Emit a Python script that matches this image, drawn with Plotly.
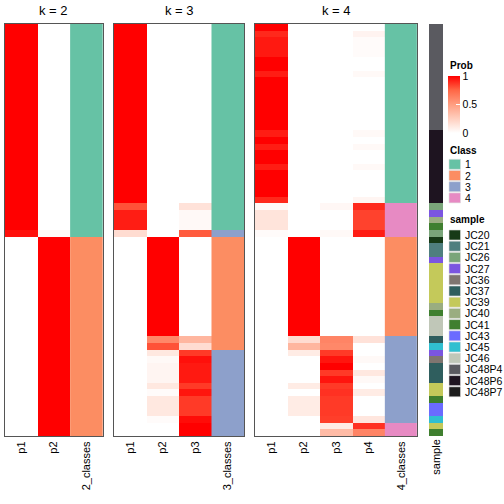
import plotly.graph_objects as go

# ---------------- data ----------------
rows = list(range(62))

sample_names = ["JC20", "JC21", "JC26", "JC27", "JC36", "JC37", "JC39", "JC40",
                "JC41", "JC43", "JC45", "JC46", "JC48P4", "JC48P6", "JC48P7"]
sample_colors = ["#173a17", "#4f7f7f", "#7aa57a", "#7b55e0", "#7f7570", "#2f5e5e",
                 "#c4c95a", "#9aad80", "#3f7f2f", "#6b6bff", "#30bfd0", "#c0c7b8",
                 "#5a5a60", "#1e1420", "#1c1c1c"]

row_samples = (["JC48P4"] * 16 + ["JC48P6"] * 11 +
               ["JC26", "JC27", "JC40", "JC41", "JC26", "JC20", "JC21", "JC21",
                "JC27", "JC39", "JC39", "JC39", "JC39", "JC39", "JC39", "JC40",
                "JC41", "JC46", "JC46", "JC46", "JC37", "JC45", "JC27", "JC36",
                "JC37", "JC37", "JC37", "JC39", "JC39", "JC41", "JC43", "JC43",
                "JC45", "JC39", "JC41"])

class_labels = ["1", "2", "3", "4"]
class_colors = ["#66c2a5", "#fc8d62", "#8da0cb", "#e78ac3"]

# k = 2
k2_p1 = [1.0] * 31 + [0.96] + [0.0] * 30
k2_p2 = [0.0] * 31 + [0.03] + [1.0] * 30
k2_class = [1] * 32 + [2] * 30

# k = 3
k3_p1 = [1.0] * 27 + [0.8, 0.93, 0.93, 0.93, 0.18] + [0.0] * 30
k3_p2 = ([0.0] * 32 + [1.0] * 15 +
         [0.6, 0.8, 0.12, 0.03, 0.05, 0.05, 0.05, 0.12, 0.02, 0.12, 0.12, 0.12, 0.02, 0.0, 0.0])
k3_p3 = ([0.0] * 27 + [0.15, 0.03, 0.03, 0.03, 0.78] + [0.0] * 15 +
         [0.38, 0.18, 0.86, 0.96, 0.94, 0.94, 0.94, 0.86, 0.95, 0.86, 0.86, 0.86, 0.97, 1.0, 1.0])
k3_class = [1] * 31 + [3] + [2] * 17 + [3] * 13

# k = 4
k4_p1 = ([1.0, 0.9, 0.94, 0.94, 0.94, 1.0, 1.0, 0.93, 1.0, 1.0, 1.0, 1.0, 1.0, 1.0, 1.0, 1.0,
          0.93, 1.0, 0.93, 1.0, 1.0, 0.93, 1.0, 1.0, 1.0, 1.0, 0.9,
          0.03, 0.14, 0.14, 0.14, 0.02] + [0.0] * 30)
k4_p2 = ([0.0] * 32 + [1.0] * 15 +
         [0.18, 0.38, 0.1, 0.0, 0.0, 0.0, 0.0, 0.1, 0.0, 0.1, 0.1, 0.1, 0.0, 0.0, 0.0])
k4_p3 = ([0.0] * 27 + [0.04, 0.0, 0.0, 0.0, 0.03] + [0.0] * 15 +
         [0.62, 0.6, 0.86, 0.95, 1.0, 0.86, 0.95, 0.86, 0.88, 0.86, 0.86, 0.86, 0.85, 0.1, 0.35])
k4_p4 = ([0.0, 0.06, 0.02, 0.02, 0.02, 0.0, 0.0, 0.03, 0.0, 0.0, 0.0, 0.0, 0.0, 0.0, 0.0, 0.0,
          0.03, 0.0, 0.03, 0.0, 0.0, 0.03, 0.0, 0.0, 0.0, 0.0, 0.05,
          0.9, 0.84, 0.84, 0.84, 0.93] + [0.0] * 15 +
         [0.15, 0.0, 0.0, 0.03, 0.0, 0.12, 0.03, 0.0, 0.1, 0.0, 0.0, 0.0, 0.13, 0.88, 0.62])
k4_class = [1] * 27 + [4] * 5 + [2] * 15 + [3] * 13 + [4] * 2

panels = [
    (2, [k2_p1, k2_p2], k2_class, ["p1", "p2", "2_classes"]),
    (3, [k3_p1, k3_p2, k3_p3], k3_class, ["p1", "p2", "p3", "3_classes"]),
    (4, [k4_p1, k4_p2, k4_p3, k4_p4], k4_class, ["p1", "p2", "p3", "p4", "4_classes"]),
]

# ---------------- layout helpers ----------------
W = 504.0
FONT = "Liberation Sans, Arial, Helvetica, sans-serif"
panel_x = {2: (5.0, 102.7), 3: (114.0, 244.0), 4: (255.0, 417.3)}
sample_x = (429.0, 443.0)
HM_TOP, HM_BOT = 24.0, 436.0


def xdom(a, b):
    return [a / W, b / W]


def ydom(top, bot):
    return [1 - bot / W, 1 - top / W]


def discrete_scale(colors):
    n = len(colors)
    scale = []
    for i, c in enumerate(colors):
        scale.append([i / n, c])
        scale.append([(i + 1) / n, c])
    return scale


prob_scale = [[0.0, "#ffffff"], [0.25, "#ffcfbf"], [0.5, "#ff9e81"],
              [0.75, "#ff6746"], [1.0, "#ff0000"]]

fig = go.Figure()
layout = dict(width=504, height=504, margin=dict(l=0, r=0, t=0, b=0),
              paper_bgcolor="white", plot_bgcolor="white",
              font=dict(family=FONT, size=11, color="black"),
              showlegend=False)

annotations = []
shapes = []

for i, (k, probs, cls, ticks) in enumerate(panels):
    ax = i + 1
    xa = "x" if ax == 1 else f"x{ax}"
    ya = "y" if ax == 1 else f"y{ax}"
    z = [[probs[c][r] for c in range(k)] for r in rows]
    fig.add_trace(go.Heatmap(z=z, x0=0, dx=1, y=rows, coloraxis="coloraxis",
                             xaxis=xa, yaxis=ya, hoverinfo="skip"))
    fig.add_trace(go.Heatmap(z=[[c] for c in cls], x0=k, dx=1, y=rows,
                             colorscale=discrete_scale(class_colors), zmin=0.5, zmax=4.5,
                             showscale=False, xaxis=xa, yaxis=ya, hoverinfo="skip"))
    a, b = panel_x[k]
    layout["xaxis" if ax == 1 else f"xaxis{ax}"] = dict(
        domain=xdom(a, b), range=[-0.5, k + 0.5], anchor=ya,
        tickmode="array", tickvals=list(range(k + 1)), ticktext=ticks,
        tickangle=-90, ticks="", showgrid=False, zeroline=False,
        showline=True, mirror=True, linecolor="#555555", linewidth=1,
        tickfont=dict(size=11, family=FONT, color="black"), fixedrange=True,
        automargin=False)
    layout["yaxis" if ax == 1 else f"yaxis{ax}"] = dict(
        domain=ydom(HM_TOP, HM_BOT), range=[61.5, -0.5], anchor=xa,
        showticklabels=False, ticks="", showgrid=False, zeroline=False,
        showline=True, mirror=True, linecolor="#555555", linewidth=1, fixedrange=True,
        automargin=False)
    annotations.append(dict(text=f"k = {k}", x=(a + b) / 2 / W, y=1 - 10.7 / W,
                            xref="paper", yref="paper", xanchor="center", yanchor="middle",
                            showarrow=False, font=dict(size=13, family=FONT, color="black")))

# sample annotation column
sample_idx = [[sample_names.index(s)] for s in row_samples]
fig.add_trace(go.Heatmap(z=sample_idx, x0=0, dx=1, y=rows,
                         colorscale=discrete_scale(sample_colors),
                         zmin=-0.5, zmax=len(sample_names) - 0.5, showscale=False,
                         xaxis="x4", yaxis="y4", hoverinfo="skip"))
layout["xaxis4"] = dict(domain=xdom(*sample_x), range=[-0.5, 0.5], anchor="y4",
                        tickmode="array", tickvals=[0], ticktext=["sample"], tickangle=-90,
                        ticks="", showgrid=False, zeroline=False, showline=False,
                        tickfont=dict(size=11, family=FONT, color="black"), fixedrange=True,
                        automargin=False)
layout["yaxis4"] = dict(domain=ydom(HM_TOP, HM_BOT), range=[61.5, -0.5], anchor="x4",
                        showticklabels=False, ticks="", showgrid=False, zeroline=False,
                        showline=False, fixedrange=True, automargin=False)

# probability colour bar
layout["coloraxis"] = dict(
    colorscale=prob_scale, cmin=0, cmax=1,
    colorbar=dict(x=448 / W, xanchor="left", y=1 - 76 / W, yanchor="top",
                  lenmode="pixels", len=57, thicknessmode="pixels", thickness=12,
                  xpad=0, ypad=0, outlinewidth=0,
                  tickmode="array", tickvals=[0, 0.5, 1], ticktext=["0", "0.5", "1"],
                  ticks="inside", ticklen=4, tickcolor="white",
                  tickfont=dict(size=10.5, family=FONT, color="black")))

LX0, LX1, LTX = 449.0, 460.5, 463.0


def legend_title(text, y):
    annotations.append(dict(text=f"<b>{text}</b>", x=LX0 / W - 0.001, y=1 - y / W,
                            xref="paper", yref="paper", xanchor="left", yanchor="middle",
                            showarrow=False, font=dict(size=10, family=FONT, color="black")))


def legend_items(labels, colors, y0, step=11.2, h=10.0):
    for j, (lab, col) in enumerate(zip(labels, colors)):
        top = y0 + j * step
        shapes.append(dict(type="rect", xref="paper", yref="paper",
                           x0=LX0 / W, x1=LX1 / W, y0=1 - (top + h) / W, y1=1 - top / W,
                           fillcolor=col, line=dict(width=0.6, color="#dddddd")))
        annotations.append(dict(text=lab, x=LTX / W, y=1 - (top + h / 2) / W,
                                xref="paper", yref="paper", xanchor="left", yanchor="middle",
                                showarrow=False,
                                font=dict(size=10.5, family=FONT, color="black")))


legend_title("Prob", 65)
legend_title("Class", 150)
legend_items(class_labels, class_colors, 159.3)
legend_title("sample", 219)
legend_items(sample_names, sample_colors, 230.0)

layout["annotations"] = annotations
layout["shapes"] = shapes
fig.update_layout(**layout)
fig.write_html("out.html", config={"displayModeBar": False},
               post_script="document.body.style.margin='0';document.body.style.padding='0';")
